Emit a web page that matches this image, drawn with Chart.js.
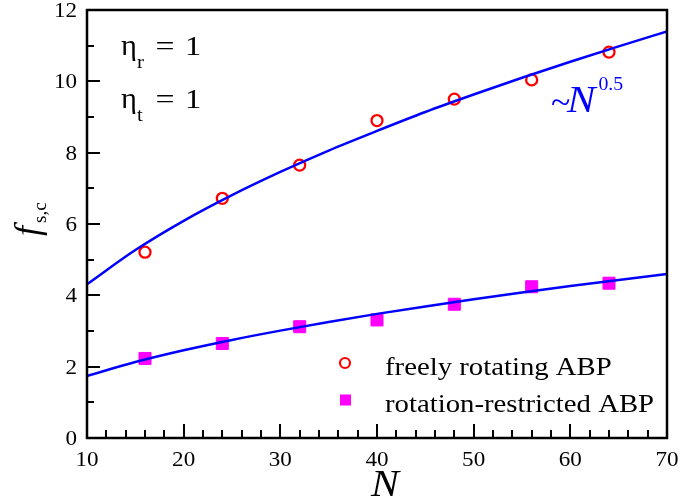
<!DOCTYPE html>
<html>
<head>
<meta charset="utf-8">
<script src="https://cdn.jsdelivr.net/npm/chart.js@4"></script>
<style>
  html, body { margin: 0; padding: 0; background: #fff; }
  #wrap { width: 683px; height: 504px; }
</style>
</head>
<body>
<div id="wrap"><canvas id="fscChart"></canvas></div>
<script>
// measured points
const nValues = [16, 24, 32, 40, 48, 56, 64];
const freelyRotating = [5.21, 6.72, 7.65, 8.90, 9.50, 10.04, 10.82];
const rotationRestricted = [2.23, 2.65, 3.12, 3.31, 3.75, 4.24, 4.34];

// ~N^0.5 fit curves
const fitN = [10, 15, 20, 25, 30, 35, 40, 45, 50, 55, 60, 65, 70];
const fitFree = [4.31, 5.27, 6.09, 6.81, 7.46, 8.06, 8.61, 9.14, 9.63, 10.10, 10.55, 10.98, 11.40];
const fitRestricted = [1.74, 2.13, 2.46, 2.75, 3.01, 3.25, 3.48, 3.69, 3.89, 4.08, 4.26, 4.43, 4.60];

// axis ticks
const xTicks = [10, 20, 30, 40, 50, 60, 70];
const yTicks = [0, 2, 4, 6, 8, 10, 12];

const SERIF = '"Liberation Serif", "Times New Roman", serif';

function toPoints(xs, ys) {
    return xs.map(function(v, i) { return { x: v, y: ys[i] }; });
}

function drawText(ctx, str, x, y, font, color, align, sx) {
    ctx.save();
    ctx.translate(x, y);
    ctx.scale(sx || 1, 1);
    ctx.font = font;
    ctx.fillStyle = color;
    ctx.textAlign = align || 'left';
    ctx.textBaseline = 'alphabetic';
    ctx.fillText(str, 0, 0);
    const w = ctx.measureText(str).width * (sx || 1);
    ctx.restore();
    return w;
}

const framePlugin = {
    id: 'frame',
    afterDraw: function(chart) {
        const ctx = chart.ctx;
        const a = chart.chartArea;
        const xs = chart.scales.x;
        const ys = chart.scales.y;

        ctx.save();
        ctx.strokeStyle = '#000';
        ctx.lineWidth = 2.5;
        ctx.strokeRect(a.left, a.top, a.right - a.left, a.bottom - a.top);

        // inward ticks, bottom and left only
        ctx.lineWidth = 2;
        ctx.beginPath();
        for (let v = xs.min; v <= xs.max; v += 2) {
            const px = Math.round(xs.getPixelForValue(v));
            const len = xTicks.includes(v) ? 14 : 8;
            ctx.moveTo(px, a.bottom);
            ctx.lineTo(px, a.bottom - len);
        }
        for (let v = ys.min; v <= ys.max; v += 1) {
            const py = Math.round(ys.getPixelForValue(v));
            const len = yTicks.includes(v) ? 13 : 7;
            ctx.moveTo(a.left, py);
            ctx.lineTo(a.left + len, py);
        }
        ctx.stroke();
        ctx.restore();

        const tickFont = '22px ' + SERIF;
        xTicks.forEach(function(v) {
            drawText(ctx, String(v), xs.getPixelForValue(v), a.bottom + 28, tickFont, '#000', 'center', 1.05);
        });
        yTicks.forEach(function(v) {
            drawText(ctx, String(v), a.left - 10, ys.getPixelForValue(v) + 7, tickFont, '#000', 'right', 1.05);
        });

        // axis titles
        drawText(ctx, 'N', (a.left + a.right) / 2 + 8, a.bottom + 58, 'italic 38px ' + SERIF, '#000', 'center', 1.1);

        ctx.save();
        ctx.translate(39, 236);
        ctx.rotate(-Math.PI / 2);
        const fw = drawText(ctx, 'f', 0, 0, 'italic 36px ' + SERIF, '#000', 'left', 1);
        drawText(ctx, 's,c', fw + 3, 7, '19px ' + SERIF, '#000', 'left', 1);
        ctx.restore();

        // parameter labels
        [['r', 55], ['t', 108]].forEach(function(p) {
            const base = p[1];
            drawText(ctx, '\u03b7', 121, base, '29px ' + SERIF, '#000', 'left', 1.05);
            drawText(ctx, p[0], 137, base + 13, '19px ' + SERIF, '#000', 'left', 1.1);
            drawText(ctx, '=', 165, base, '27px ' + SERIF, '#000', 'center', 1.25);
            drawText(ctx, '1', 193, base, '27px ' + SERIF, '#000', 'center', 1.2);
        });

        // power-law annotation
        const blue = '#0000ff';
        drawText(ctx, '~', 551, 113, '34px ' + SERIF, blue, 'left', 1.05);
        const nw = drawText(ctx, 'N', 567, 112, 'italic 38px ' + SERIF, blue, 'left', 1.12);
        drawText(ctx, '0.5', 567 + nw + 3, 90, '18px ' + SERIF, blue, 'left', 1.1);

        // legend
        const items = chart.data.datasets.filter(function(d) { return d.inLegend; });
        items.forEach(function(d, i) {
            const cy = 363 + i * 37;
            ctx.save();
            if (d.pointStyle === 'rect') {
                ctx.fillStyle = d.pointBackgroundColor;
                ctx.fillRect(340, cy - 5.5, 11, 11);
            } else {
                ctx.strokeStyle = d.pointBorderColor;
                ctx.lineWidth = 2.2;
                ctx.beginPath();
                ctx.arc(345, cy, 5, 0, Math.PI * 2);
                ctx.stroke();
            }
            ctx.restore();
            drawText(ctx, d.label, 385, cy + 12, '25px ' + SERIF, '#000', 'left', 1.15);
        });
    }
};

new Chart(document.getElementById('fscChart').getContext('2d'), {
    type: 'scatter',
    data: {
        datasets: [
            {
                label: 'freely rotating ABP',
                inLegend: true,
                data: toPoints(nValues, freelyRotating),
                pointStyle: 'circle',
                pointRadius: 5.5,
                pointBorderWidth: 2.3,
                pointBorderColor: '#ff0000',
                pointBackgroundColor: 'rgba(0,0,0,0)',
                order: 2
            },
            {
                label: 'rotation-restricted ABP',
                inLegend: true,
                data: toPoints(nValues, rotationRestricted),
                pointStyle: 'rect',
                pointRadius: 8.5,
                pointBorderWidth: 1,
                pointBorderColor: '#ff00ff',
                pointBackgroundColor: '#ff00ff',
                order: 2
            },
            {
                label: 'fit free',
                data: toPoints(fitN, fitFree),
                showLine: true,
                borderColor: '#0000ff',
                borderWidth: 2.5,
                pointRadius: 0,
                cubicInterpolationMode: 'monotone',
                order: 1
            },
            {
                label: 'fit restricted',
                data: toPoints(fitN, fitRestricted),
                showLine: true,
                borderColor: '#0000ff',
                borderWidth: 2.5,
                pointRadius: 0,
                cubicInterpolationMode: 'monotone',
                order: 1
            }
        ]
    },
    options: {
        responsive: true,
        maintainAspectRatio: false,
        animation: false,
        layout: { padding: { left: 87, right: 16, top: 10, bottom: 66 } },
        scales: {
            x: { type: 'linear', min: 10, max: 70, display: false },
            y: { type: 'linear', min: 0, max: 12, display: false }
        },
        plugins: {
            legend: { display: false },
            tooltip: { enabled: false }
        }
    },
    plugins: [framePlugin]
});
</script>
</body>
</html>
